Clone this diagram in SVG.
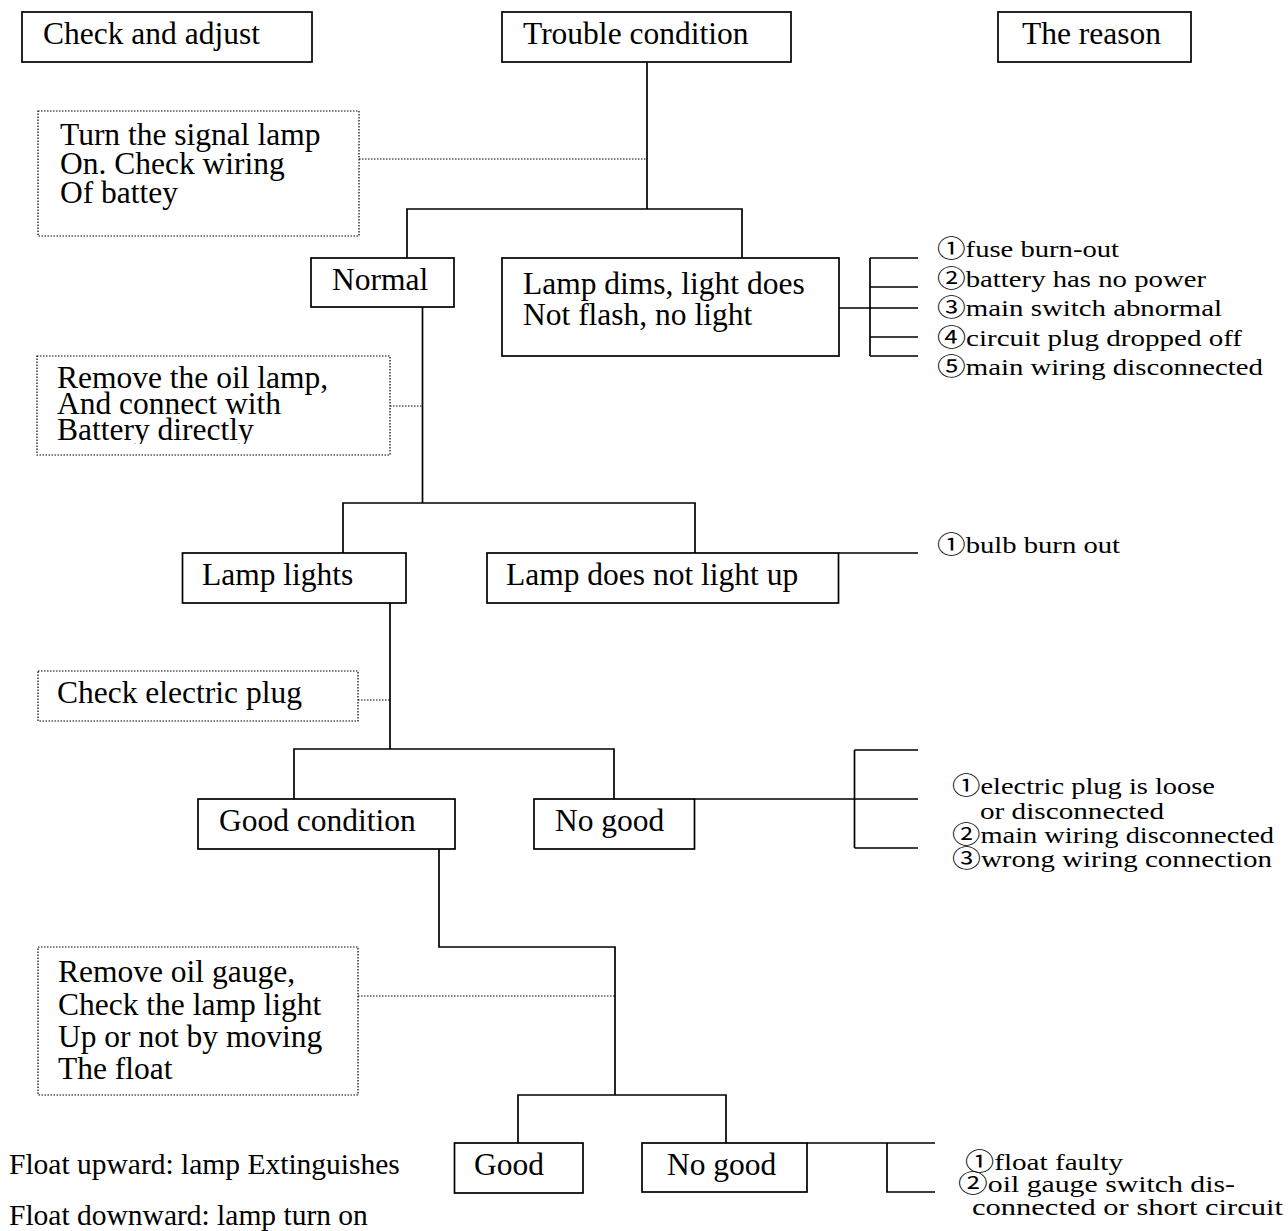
<svg xmlns="http://www.w3.org/2000/svg" width="1288" height="1231" viewBox="0 0 1288 1231">
<defs>
<style>
.box{fill:#fff;stroke:#000;stroke-width:1.7}
.dot{fill:#fff;stroke:#000;stroke-width:1.2;stroke-dasharray:1.5 1.5}
.c{fill:none;stroke:#000;stroke-width:1.7}
.dc{fill:none;stroke:#000;stroke-width:1;stroke-dasharray:1.5 1.5}
.t{font-family:"Liberation Serif","Times New Roman",serif;font-size:31.5px;fill:#000}
.f{font-family:"Liberation Serif","Times New Roman",serif;font-size:29.5px;fill:#000}
.r{font-family:"Liberation Serif","Noto Sans CJK JP",serif;font-size:24px;fill:#000}
</style>
<clipPath id="clipRemoveLamp"><rect x="37" y="356" width="353" height="88"/></clipPath>
</defs>
<rect width="1288" height="1231" fill="#fff"/>

<g id="connectors">
<path class="c" d="M647 62V209M407 258V209H742V258M839 308H870M870 258V356M870 258H918M870 287H918M870 308H918M870 337H918M870 356H918"/>
<path class="c" d="M422.5 307V503M343 553V503H695V553M838.5 553H918"/>
<path class="c" d="M390 603V749M294 799V749H614V799M694.5 799H918M854.5 750V848M854.5 750H918M854.5 848H918"/>
<path class="c" d="M439 849V947H615V1095M518 1143V1095H726V1143M807 1143H935M887 1143V1192H935"/>
<path class="dc" d="M359 159H647M390 406H422.5M358 700H390M358 996H615"/>
</g>

<g id="check-and-adjust"><rect class="box" x="22" y="12" width="290" height="50"/><text class="t" x="43" y="44">Check and adjust</text></g>
<g id="trouble-condition"><rect class="box" x="502" y="12" width="289" height="50"/><text class="t" x="523" y="44">Trouble condition</text></g>
<g id="the-reason"><rect class="box" x="998" y="12" width="193" height="50"/><text class="t" x="1022" y="44">The reason</text></g>

<g id="turn-signal"><rect class="dot" x="38" y="111" width="321" height="125"/>
<text class="t" x="60" y="145">Turn the signal lamp</text>
<text class="t" x="60" y="174">On. Check wiring</text>
<text class="t" x="60" y="203">Of battey</text></g>

<g id="normal"><rect class="box" x="311" y="258" width="143" height="49"/><text class="t" x="332" y="290">Normal</text></g>
<g id="lamp-dims"><rect class="box" x="502" y="258" width="337" height="98"/>
<text class="t" x="523" y="294">Lamp dims, light does</text>
<text class="t" x="523" y="325">Not flash, no light</text></g>

<g id="reasons-1">
<text class="r" x="937" y="257" textLength="182" lengthAdjust="spacingAndGlyphs">①fuse burn-out</text>
<text class="r" x="937" y="286.5" textLength="269" lengthAdjust="spacingAndGlyphs">②battery has no power</text>
<text class="r" x="937" y="316" textLength="285" lengthAdjust="spacingAndGlyphs">③main switch abnormal</text>
<text class="r" x="937" y="345.5" textLength="305" lengthAdjust="spacingAndGlyphs">④circuit plug dropped off</text>
<text class="r" x="937" y="375" textLength="326" lengthAdjust="spacingAndGlyphs">⑤main wiring disconnected</text>
</g>

<g id="remove-oil-lamp"><rect class="dot" x="37" y="356" width="353" height="99"/>
<g clip-path="url(#clipRemoveLamp)">
<text class="t" x="57" y="388">Remove the oil lamp,</text>
<text class="t" x="57" y="414">And connect with</text>
<text class="t" x="57" y="440">Battery directly</text></g></g>

<g id="lamp-lights"><rect class="box" x="182.5" y="553" width="223.5" height="50"/><text class="t" x="202" y="585">Lamp lights</text></g>
<g id="lamp-not-light"><rect class="box" x="487" y="553" width="351.5" height="50"/><text class="t" x="506" y="585">Lamp does not light up</text></g>
<g id="reasons-bulb"><text class="r" x="937" y="553" textLength="183" lengthAdjust="spacingAndGlyphs">①bulb burn out</text></g>

<g id="check-plug"><rect class="dot" x="38" y="671" width="320" height="50"/><text class="t" x="57" y="703">Check electric plug</text></g>

<g id="good-condition"><rect class="box" x="198" y="799" width="257" height="50"/><text class="t" x="219" y="831">Good condition</text></g>
<g id="no-good-1"><rect class="box" x="534" y="799" width="160.5" height="50"/><text class="t" x="555" y="831">No good</text></g>

<g id="reasons-2">
<text class="r" x="952" y="794" textLength="263" lengthAdjust="spacingAndGlyphs">①electric plug is loose</text>
<text class="r" x="980" y="819" textLength="184" lengthAdjust="spacingAndGlyphs">or disconnected</text>
<text class="r" x="952" y="843" textLength="322" lengthAdjust="spacingAndGlyphs">②main wiring disconnected</text>
<text class="r" x="952" y="867" textLength="320" lengthAdjust="spacingAndGlyphs">③wrong wiring connection</text>
</g>

<g id="remove-oil-gauge"><rect class="dot" x="38" y="947" width="320" height="148"/>
<text class="t" x="58" y="982">Remove oil gauge,</text>
<text class="t" x="58" y="1015">Check the lamp light</text>
<text class="t" x="58" y="1047">Up or not by moving</text>
<text class="t" x="58" y="1079">The float</text></g>

<g id="good"><rect class="box" x="454.5" y="1143" width="128.5" height="50"/><text class="t" x="474" y="1175">Good</text></g>
<g id="no-good-2"><rect class="box" x="642" y="1143" width="165" height="49"/><text class="t" x="667" y="1175">No good</text></g>

<g id="reasons-3">
<text class="r" x="965" y="1170" textLength="158" lengthAdjust="spacingAndGlyphs">①float faulty</text>
<text class="r" x="958" y="1192" textLength="277" lengthAdjust="spacingAndGlyphs">②oil gauge switch dis-</text>
<text class="r" x="972" y="1215" textLength="311" lengthAdjust="spacingAndGlyphs">connected or short circuit</text>
</g>

<g id="float-notes">
<text class="f" x="9" y="1174">Float upward: lamp Extinguishes</text>
<text class="f" x="9" y="1225">Float downward: lamp turn on</text>
</g>
</svg>
